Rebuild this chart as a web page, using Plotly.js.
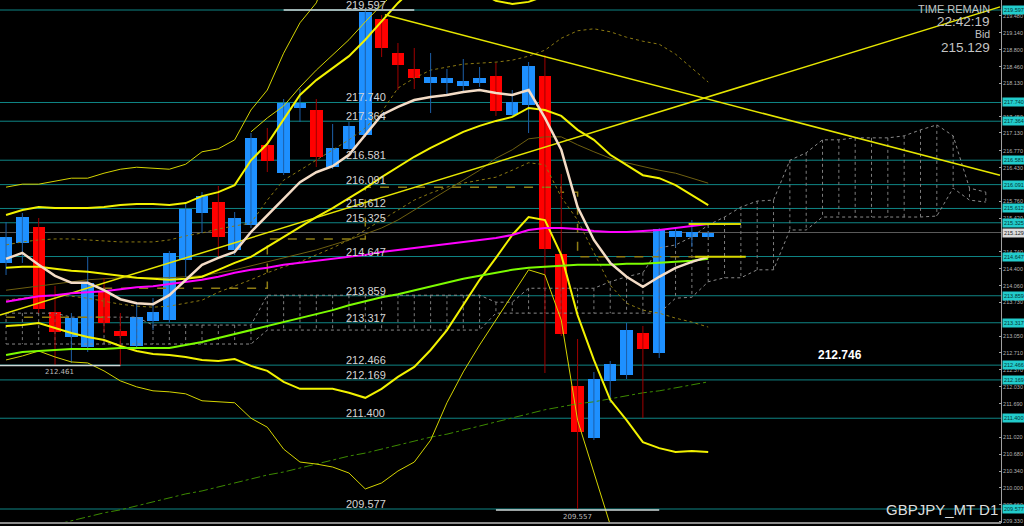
<!DOCTYPE html>
<html><head><meta charset="utf-8">
<script src="https://cdn.plot.ly/plotly-3.0.1.min.js"></script>
<style>html,body{margin:0;padding:0;background:#000;}#chart{width:1024px;height:526px;}</style>
</head><body><div id="chart"></div>
<script>
// ---- candles (daily bars, oldest -> newest) ----
const openP  = [214.517,214.918,215.240,213.533,213.031,212.830,213.934,213.151,212.850,213.352,213.372,214.577,215.521,215.742,214.778,215.280,216.886,216.324,217.629,217.589,216.444,216.806,217.087,219.416,218.734,218.412,218.131,218.131,218.071,218.131,218.272,217.489,217.689,218.272,214.697,212.047,211.003,212.147,212.268,213.111,212.710,215.039,215.039,215.039];
const highP  = [215.340,215.521,215.420,214.055,213.513,214.637,214.216,213.513,213.714,213.814,214.758,215.722,215.943,216.063,215.541,217.127,217.228,217.810,218.011,217.810,217.308,217.348,219.597,219.497,218.934,218.834,218.734,218.412,218.613,218.452,218.533,217.991,218.553,218.693,216.304,212.991,212.328,212.549,213.312,213.252,215.219,215.199,215.380,215.159];
const lowP   = [214.276,214.517,213.513,212.470,212.509,212.730,213.111,212.461,212.810,213.171,213.312,214.236,215.119,214.637,214.678,215.220,216.344,216.284,217.348,216.444,216.404,216.786,217.047,218.653,217.991,218.011,217.529,217.890,217.970,218.051,217.469,217.449,217.127,212.308,213.051,209.557,210.963,211.706,212.187,211.404,212.609,214.838,214.838,215.039];
const closeP = [215.039,215.440,213.593,213.131,213.412,214.115,213.312,213.051,213.432,213.533,214.718,215.601,215.862,215.039,215.420,217.027,216.565,217.730,217.730,216.645,216.826,217.268,219.557,218.834,218.493,218.232,218.252,218.232,218.171,218.232,217.569,217.750,218.473,214.798,213.091,211.123,212.187,212.489,213.171,212.790,215.199,215.159,215.139,215.129];

// ---- moving averages / bands (one value per bar) ----
const creamMA  = [214.60,214.72,214.48,214.26,214.12,214.12,213.97,213.79,213.71,213.69,213.87,214.18,214.48,214.62,214.74,215.14,215.48,215.82,216.14,216.34,216.46,216.69,217.09,217.49,217.65,217.79,217.85,217.89,217.95,217.99,217.93,217.89,217.99,217.43,216.79,215.64,214.98,214.52,214.24,214.04,214.24,214.42,214.54,214.64];
const magentaMA= [213.74,213.79,213.85,213.87,213.91,213.93,213.95,213.99,214.03,214.05,214.09,214.13,214.18,214.24,214.32,214.38,214.42,214.48,214.52,214.56,214.60,214.64,214.68,214.74,214.78,214.82,214.86,214.90,214.94,214.98,215.02,215.08,215.18,215.22,215.22,215.20,215.16,215.14,215.14,215.16,215.18,215.22,215.26,215.30];
const limeMA   = [212.67,212.73,212.75,212.77,212.79,212.79,212.79,212.81,212.81,212.81,212.81,212.87,212.93,213.01,213.09,213.17,213.25,213.33,213.41,213.49,213.57,213.67,213.75,213.83,213.89,213.97,214.05,214.13,214.20,214.26,214.32,214.38,214.42,214.44,214.46,214.48,214.48,214.48,214.50,214.50,214.52,214.54,214.56,214.60];
const greenDashMA = [209.04,209.12,209.18,209.26,209.34,209.42,209.50,209.56,209.64,209.72,209.80,209.88,209.94,210.02,210.10,210.18,210.26,210.32,210.40,210.48,210.56,210.64,210.70,210.78,210.86,210.94,211.02,211.08,211.16,211.24,211.33,211.41,211.49,211.57,211.63,211.69,211.73,211.79,211.85,211.91,211.95,212.01,212.07,212.13];
const bandUpper3 = [216.04,216.10,216.10,216.16,216.22,216.22,216.32,216.40,216.44,216.42,216.40,216.50,216.75,216.81,216.99,217.59,217.99,218.73,219.34,219.74,220.60,221.20,222.01,222.41,222.41,222.21,221.81,221.40,221.00,220.60,220.40,220.30,220.30,220.40,220.80,221.20,221.40,221.40,221.30,221.20,221.10,221.00,220.90,220.80];
const bandUpper2 = [215.48,215.58,215.64,215.62,215.62,215.62,215.64,215.68,215.70,215.70,215.68,215.72,215.86,215.94,216.08,216.58,216.91,217.39,217.89,218.19,218.43,218.67,219.00,219.36,219.74,220.04,220.20,220.20,220.10,219.96,219.78,219.72,219.76,219.88,220.30,220.60,220.70,220.70,220.64,220.56,220.50,220.44,220.40,220.36];
const bandUpper1 = [214.42,214.44,214.44,214.40,214.36,214.34,214.30,214.26,214.22,214.20,214.18,214.20,214.24,214.38,214.52,214.64,214.84,215.04,215.24,215.44,215.62,215.82,216.02,216.24,216.44,216.65,216.83,216.99,217.15,217.27,217.37,217.45,217.63,217.59,217.47,217.19,216.99,216.69,216.49,216.28,216.22,216.08,215.88,215.68];
const bandLower2 = [213.25,213.27,213.31,213.21,213.11,213.03,212.97,212.85,212.75,212.69,212.67,212.63,212.57,212.55,212.59,212.45,212.35,212.13,211.99,211.99,211.99,211.91,211.81,211.99,212.23,212.43,212.77,213.17,213.67,214.18,214.62,215.08,215.44,215.38,214.68,213.47,212.57,211.77,211.36,210.92,210.80,210.72,210.74,210.72];
const bandLower3 = [212.57,212.65,212.75,212.63,212.53,212.51,212.35,212.15,212.03,211.95,211.93,211.89,211.75,211.73,211.71,211.40,211.22,210.78,210.52,210.48,210.42,210.30,209.98,210.10,210.34,210.52,210.96,211.71,212.33,212.87,213.37,213.87,214.38,214.28,213.37,211.36,210.30,209.26,208.35,207.75,207.35,206.95,206.75,206.55];
const envThin = [null,null,null,null,null,null,null,null,null,null,null,null,null,null,null,217.15,217.43,217.67,218.05,218.39,218.69,219.00,219.36,219.70,220.00,null,null,null,null,null,null,null,null,null,null,null,null,null,null,null,null,null,null,null];
const oliveDotUp = [214.88,214.94,214.98,215.00,215.00,214.98,214.96,214.94,214.94,214.94,214.98,215.06,215.12,215.20,215.26,215.32,215.78,216.18,216.38,216.58,216.79,216.99,217.23,217.55,218.03,218.23,218.39,218.45,218.51,218.53,218.55,218.59,218.67,218.79,219.03,219.18,219.22,219.16,219.05,218.97,218.91,218.71,218.43,218.15];
const oliveDotLow = [213.77,213.81,213.85,213.87,213.85,213.81,213.75,213.69,213.65,213.63,213.65,213.71,213.77,213.93,214.05,214.18,214.32,214.44,214.54,214.68,214.82,214.98,215.18,215.38,215.58,215.78,215.92,216.04,216.12,216.18,216.24,216.38,216.53,216.49,215.84,215.38,214.72,214.07,213.71,213.57,213.51,213.41,213.33,213.23];
const oliveSolid = [213.97,214.01,214.05,214.09,214.14,214.18,214.20,214.22,214.22,214.22,214.22,214.24,214.26,214.32,214.38,214.46,214.54,214.62,214.70,214.78,214.88,214.98,215.10,215.22,215.38,215.58,215.78,215.98,216.18,216.38,216.62,216.79,217.01,217.05,217.05,216.89,216.75,216.62,216.53,216.45,216.38,216.32,216.22,216.12];
const kijun = [213.43,213.43,213.43,213.43,213.43,213.43,214.01,214.01,214.01,214.01,214.01,214.01,214.01,214.01,214.01,214.01,215.00,215.00,215.00,215.00,215.00,215.00,216.04,216.04,216.04,216.04,216.04,216.04,216.04,216.04,216.04,216.04,216.04,216.04,215.94,214.64,214.64,214.64,214.64,214.64,214.64,214.64,214.64,214.64];

// ---- Ichimoku cloud (extends beyond last bar) ----
const cloudTop = [213.51,213.51,213.51,213.51,213.43,213.43,213.43,213.43,213.43,213.27,213.27,213.27,213.27,213.27,213.27,213.27,213.87,213.87,213.87,213.87,213.87,213.87,213.87,213.87,213.87,213.87,213.87,213.87,213.87,213.87,213.73,213.73,214.01,214.01,214.01,214.01,214.01,214.14,214.24,214.32,214.82,214.88,215.04,215.28,215.44,215.64,215.76,215.78,216.58,216.73,216.99,216.99,217.03,217.03,217.03,217.07,217.19,217.29,217.07,216.02,215.94];
const cloudBot = [212.89,212.89,212.89,212.89,212.89,212.89,212.89,212.89,212.89,212.89,212.89,212.89,212.89,212.89,212.89,212.89,213.17,213.17,213.17,213.17,213.17,213.17,213.17,213.17,213.17,213.17,213.17,213.17,213.17,213.17,213.51,213.51,213.51,213.51,213.51,213.51,213.51,213.51,213.51,213.51,213.51,213.81,213.83,214.14,214.22,214.22,214.38,214.38,215.18,215.18,215.44,215.44,215.44,215.44,215.44,215.44,215.44,215.46,216.02,215.78,215.74];

// ---- drawn objects ----
const levels = [219.597,217.740,217.364,216.581,216.091,215.612,215.325,214.647,213.859,213.317,212.466,212.169,211.400,209.577];
const trendUpX = [-0.37, 60.87], trendUpY = [213.47, 219.66];
const trendDnX = [23.2, 60.87], trendDnY = [219.50, 216.28];
const extremes = [{v:219.597, from:17, to:25, label:''},{v:212.461, from:-0.4, to:7, label:'212.461'},{v:209.557, from:30, to:40, label:'209.557'}];
const endMarks = [{v:215.30, from:41.8, to:45.0},{v:214.64, from:42.2, to:45.3}];
const bid = 215.129;
const yTicks = [219.480,219.140,218.800,218.460,218.130,217.450,217.130,216.770,216.430,215.760,215.420,214.740,214.400,214.060,213.730,213.050,212.710,212.370,212.030,211.690,211.020,210.680,210.340,210.000,209.660,209.330];
const noteText = '212.746', noteY = 212.67, noteX = 51.07;

// ---------------------------------------------------------------
const nBars = openP.length;
const barX = openP.map((_, k) => k);
const cloudX = cloudTop.map((_, k) => k);
const traces = [];

const hx = [], hy = [];
cloudX.forEach(k => { hx.push(k, k, null); hy.push(cloudTop[k], cloudBot[k], null); });
traces.push({x:hx, y:hy, mode:'lines', line:{color:'#7d7d7d', width:1, dash:'dot'}});
traces.push({x:cloudX, y:cloudTop, mode:'lines', line:{color:'#8a8a8a', width:1, dash:'dot'}});
traces.push({x:cloudX, y:cloudBot, mode:'lines', line:{color:'#8a8a8a', width:1, dash:'dot'}});

traces.push({x:barX, y:oliveDotUp, mode:'lines', line:{color:'#8c7a12', width:1, dash:'dot'}});
traces.push({x:barX, y:oliveDotLow, mode:'lines', line:{color:'#8c7a12', width:1, dash:'dot'}});
traces.push({x:barX, y:oliveSolid, mode:'lines', line:{color:'#6e5f10', width:1}});
traces.push({x:barX, y:kijun, mode:'lines', line:{color:'#8f7d14', width:1.5, dash:'dash', shape:'hv'}});
traces.push({x:barX, y:greenDashMA, mode:'lines', line:{color:'#3d8a00', width:1, dash:'dashdot'}});

const upWx = [], upWy = [], dnWx = [], dnWy = [];
for (let k = 0; k < nBars; k++) {
  const up = closeP[k] >= openP[k];
  (up ? upWx : dnWx).push(k, k, null);
  (up ? upWy : dnWy).push(highP[k], lowP[k], null);
}
traces.push({x:upWx, y:upWy, mode:'lines', line:{color:'#1d5fa8', width:1}});
traces.push({x:dnWx, y:dnWy, mode:'lines', line:{color:'#a00000', width:1}});
traces.push({type:'bar', x:barX, base:barX.map(k => Math.min(openP[k], closeP[k])),
  y:barX.map(k => Math.max(Math.abs(closeP[k]-openP[k]), 0.03)), width:0.76,
  marker:{color:barX.map(k => closeP[k] >= openP[k] ? '#1e90ff' : '#ff0000'), line:{width:0}}});

traces.push({x:barX, y:bandUpper3, mode:'lines', line:{color:'#d4d400', width:1}});
traces.push({x:barX, y:envThin, mode:'lines', line:{color:'#d4d400', width:1}});
traces.push({x:barX, y:bandUpper2, mode:'lines', line:{color:'#f2f200', width:2}});
traces.push({x:barX, y:bandUpper1, mode:'lines', line:{color:'#f2f200', width:2}});
traces.push({x:barX, y:bandLower2, mode:'lines', line:{color:'#f2f200', width:2}});
traces.push({x:barX, y:bandLower3, mode:'lines', line:{color:'#d4d400', width:1}});
traces.push({x:trendUpX, y:trendUpY, mode:'lines', line:{color:'#e6e600', width:1.5}});
traces.push({x:trendDnX, y:trendDnY, mode:'lines', line:{color:'#e6e600', width:1.5}});
traces.push({x:barX, y:limeMA, mode:'lines', line:{color:'#7cfc00', width:2}});
traces.push({x:barX, y:magentaMA, mode:'lines', line:{color:'#ff00ff', width:2}});
traces.push({x:barX, y:creamMA, mode:'lines', line:{color:'#f4dcc6', width:2.5}});
endMarks.forEach(m => traces.push({x:[m.from, m.to], y:[m.v, m.v], mode:'lines', line:{color:'#d8d800', width:2}}));
extremes.forEach(m => traces.push({x:[m.from, m.to], y:[m.v, m.v], mode:'lines', line:{color:'#cfd8d8', width:1.5}}));

traces.forEach(t => { if (!t.type) t.type = 'scatter'; t.hoverinfo = 'skip'; t.showlegend = false; });

const shapes = levels.map(v => ({type:'line', xref:'paper', x0:0, x1:1, yref:'y', y0:v, y1:v, line:{color:'#0f8585', width:1}, layer:'below'}));
shapes.push({type:'line', xref:'paper', x0:0, x1:1, yref:'y', y0:bid, y1:bid, line:{color:'#5c5c5c', width:1}, layer:'below'});
shapes.push({type:'line', xref:'paper', x0:0, x1:1, yref:'paper', y0:0, y1:0, line:{color:'#8c8c8c', width:2}, layer:'above'});

const axFam = 'Liberation Sans, Arial, sans-serif';
const ann = [];
const lblFont = {family:'Liberation Sans, Arial, sans-serif', size:11, color:'#d4d4d4'};
levels.forEach(v => ann.push({x:20.76, y:v, xref:'x', yref:'y', text:v.toFixed(3), showarrow:false, xanchor:'left', yanchor:'bottom', font:lblFont, borderpad:0, yshift:-2}));
levels.forEach(v => ann.push({x:1, y:v, xref:'paper', yref:'y', text:v.toFixed(3), showarrow:false, xanchor:'left', yanchor:'middle', xshift:1, bgcolor:'#22cccc', borderpad:1, font:{family:axFam, size:5.5, color:'#053535'}}));
ann.push({x:1, y:bid, xref:'paper', yref:'y', text:bid.toFixed(3), showarrow:false, xanchor:'left', yanchor:'middle', xshift:1, bgcolor:'#dcdcdc', borderpad:1, font:{family:axFam, size:5.5, color:'#202020'}});
extremes.filter(m => m.label).forEach(m => ann.push({x:(m.from + m.to) / 2, y:m.v, xref:'x', yref:'y', text:m.label, showarrow:false, yanchor:'top', yshift:-1, font:{family:'DejaVu Sans, sans-serif', size:7, color:'#bdbdbd'}}));
ann.push({x:noteX, y:noteY, xref:'x', yref:'y', text:'<b>' + noteText + '</b>', showarrow:false, font:{family:'Liberation Sans, Arial, sans-serif', size:12, color:'#ffffff'}});
const infoFont = s => ({family:'Liberation Sans, Arial, sans-serif', size:s, color:'#c4c4c4'});
ann.push({x:0.991, y:0.982, xref:'paper', yref:'paper', text:'TIME REMAIN', showarrow:false, xanchor:'right', yanchor:'middle', font:infoFont(11)});
ann.push({x:0.991, y:0.959, xref:'paper', yref:'paper', text:'22:42:19', showarrow:false, xanchor:'right', yanchor:'middle', font:infoFont(13.5)});
ann.push({x:0.991, y:0.935, xref:'paper', yref:'paper', text:'Bid', showarrow:false, xanchor:'right', yanchor:'middle', font:infoFont(10.5)});
ann.push({x:0.991, y:0.909, xref:'paper', yref:'paper', text:bid.toFixed(3), showarrow:false, xanchor:'right', yanchor:'middle', font:infoFont(13.5)});
ann.push({x:0.999, y:0.026, xref:'paper', yref:'paper', text:'GBPJPY_MT D1', showarrow:false, xanchor:'right', yanchor:'middle', font:{family:'Liberation Sans, Arial, sans-serif', size:15, color:'#dedede'}});

const layout = {
  width:1024, height:526, paper_bgcolor:'#000', plot_bgcolor:'#000',
  margin:{l:0, r:23, t:0, b:3}, showlegend:false, bargap:0,
  xaxis:{range:[-0.37, 60.93], showgrid:false, zeroline:false, showticklabels:false, showline:false, fixedrange:true},
  yaxis:{side:'right', range:[209.296, 219.798], showgrid:false, zeroline:false, showline:true, linecolor:'#a0a0a0', linewidth:1,
    tickmode:'array', tickvals:yTicks, ticktext:yTicks.map(v => v.toFixed(3)), ticks:'inside', ticklen:2, tickcolor:'#a0a0a0',
    tickfont:{family:axFam, size:5.5, color:'#b4b4b4'}, fixedrange:true},
  shapes:shapes, annotations:ann
};
Plotly.newPlot('chart', traces, layout, {displayModeBar:false, staticPlot:true});
</script></body></html>
